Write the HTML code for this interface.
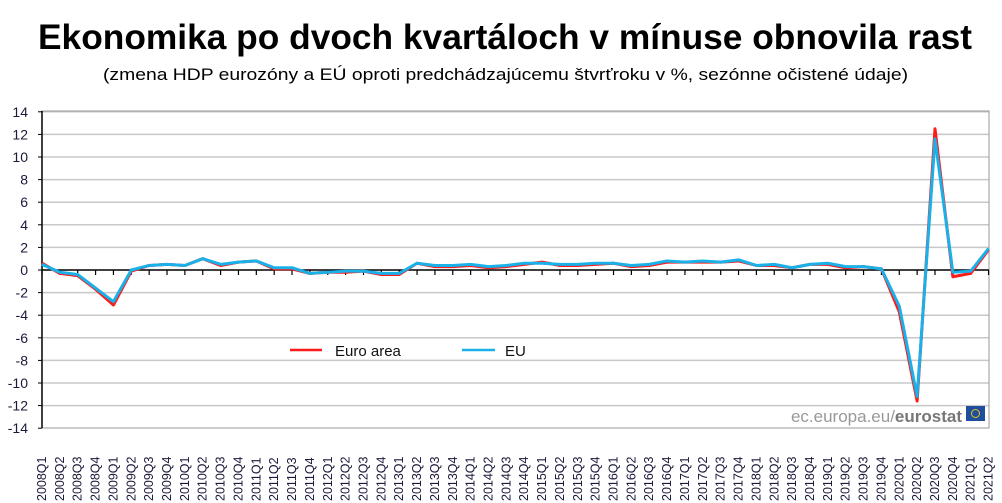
<!DOCTYPE html>
<html><head><meta charset="utf-8"><style>
body{margin:0;background:#fff;width:1002px;height:503px;overflow:hidden}
svg{display:block}
</style></head><body>
<svg width="1002" height="503" xmlns="http://www.w3.org/2000/svg">
<text x="38" y="49" textLength="934" lengthAdjust="spacingAndGlyphs" font-family="Liberation Sans, sans-serif" font-weight="bold" font-size="35" fill="#000">Ekonomika po dvoch kvartáloch v mínuse obnovila rast</text>
<text x="103" y="80" textLength="805" lengthAdjust="spacingAndGlyphs" font-family="Liberation Sans, sans-serif" font-size="17" fill="#000">(zmena HDP eurozóny a EÚ oproti predchádzajúcemu štvrťroku v %, sezónne očistené údaje)</text>
<g id="grid" stroke="#c8c8c8" stroke-width="1.5"></g>
<rect x="42" y="111" width="947" height="317" fill="none" stroke="#999" stroke-width="1"/>
<line x1="42" y1="111" x2="42" y2="428" stroke="#000" stroke-width="1.5"/>
<g id="ylab" font-family="Liberation Sans, sans-serif" font-size="14" fill="#1a1a3a" text-anchor="end"></g>
<line x1="42" y1="270" x2="989" y2="270" stroke="#000" stroke-width="1.5"/>
<g id="ticks" stroke="#000" stroke-width="1.2"></g>
<g id="xlab" font-family="Liberation Sans, sans-serif" font-size="12.5" fill="#1a1a3a"></g>
<text x="962" y="422" text-anchor="end" font-family="Liberation Sans, sans-serif" font-size="17" fill="#999">ec.europa.eu/<tspan font-weight="bold" fill="#777">eurostat</tspan></text>
<rect x="966" y="406" width="19" height="15" fill="#1f4e9c"/>
<circle cx="975.5" cy="413.5" r="4" fill="none" stroke="#e8c31c" stroke-width="1"/>
<polyline id="ea" fill="none" stroke="#ff1a1a" stroke-width="3" stroke-linejoin="round"/>
<polyline id="eu" fill="none" stroke="#1ab0e8" stroke-width="3" stroke-linejoin="round"/>
<line x1="290" y1="350" x2="322" y2="350" stroke="#ff1a1a" stroke-width="2.5"/>
<text x="335" y="356" font-family="Liberation Sans, sans-serif" font-size="15" fill="#111">Euro area</text>
<line x1="462" y1="350" x2="495" y2="350" stroke="#1ab0e8" stroke-width="2.5"/>
<text x="505" y="356" font-family="Liberation Sans, sans-serif" font-size="15" fill="#111">EU</text>
</svg>
<script>
var ns="http://www.w3.org/2000/svg";
function Y(v){return 270-v*11.3;}
function X(i){return 42+17.86*i;}
var g=document.getElementById('grid'),yl=document.getElementById('ylab');
for(var v=-14;v<=14;v+=2){
 if(v!==0&&v!==-14){var l=document.createElementNS(ns,'line');l.setAttribute('x1',42);l.setAttribute('x2',989);l.setAttribute('y1',Y(v));l.setAttribute('y2',Y(v));g.appendChild(l);}
 var t=document.createElementNS(ns,'text');t.setAttribute('x',28);t.setAttribute('y',Y(v)+5);t.textContent=v;yl.appendChild(t);
 var k=document.createElementNS(ns,'line');k.setAttribute('x1',38);k.setAttribute('x2',42);k.setAttribute('y1',Y(v));k.setAttribute('y2',Y(v));k.setAttribute('stroke','#000');yl.appendChild(k);
}
var tk=document.getElementById('ticks'),xl=document.getElementById('xlab');
for(var i=0;i<54;i++){
 var yr=2008+Math.floor(i/4),q=i%4+1;
 var k=document.createElementNS(ns,'line');k.setAttribute('x1',X(i));k.setAttribute('x2',X(i));k.setAttribute('y1',270);k.setAttribute('y2',275);tk.appendChild(k);
 var t=document.createElementNS(ns,'text');t.setAttribute('transform','translate('+(X(i)+4)+',501) rotate(-90)');t.textContent=yr+'Q'+q;xl.appendChild(t);
}
var ea=[0.6,-0.3,-0.5,-1.7,-3.1,-0.1,0.4,0.5,0.4,1.0,0.4,0.7,0.8,0.1,0.1,-0.3,-0.2,-0.2,-0.1,-0.4,-0.4,0.6,0.3,0.3,0.4,0.2,0.3,0.5,0.7,0.4,0.4,0.5,0.6,0.3,0.4,0.7,0.7,0.7,0.7,0.8,0.4,0.4,0.2,0.5,0.5,0.2,0.3,0.1,-3.7,-11.6,12.5,-0.6,-0.3,1.8];
var eu=[0.5,-0.2,-0.4,-1.6,-2.8,0.0,0.4,0.5,0.4,1.0,0.5,0.7,0.8,0.2,0.2,-0.3,-0.2,-0.1,-0.1,-0.3,-0.3,0.6,0.4,0.4,0.5,0.3,0.4,0.6,0.6,0.5,0.5,0.6,0.6,0.4,0.5,0.8,0.7,0.8,0.7,0.9,0.4,0.5,0.2,0.5,0.6,0.3,0.3,0.1,-3.2,-11.2,11.6,-0.2,-0.1,1.9];
function pts(a){return a.map(function(v,i){return X(i)+','+Y(v)}).join(' ');}
document.getElementById('ea').setAttribute('points',pts(ea));
document.getElementById('eu').setAttribute('points',pts(eu));
</script>
</body></html>
